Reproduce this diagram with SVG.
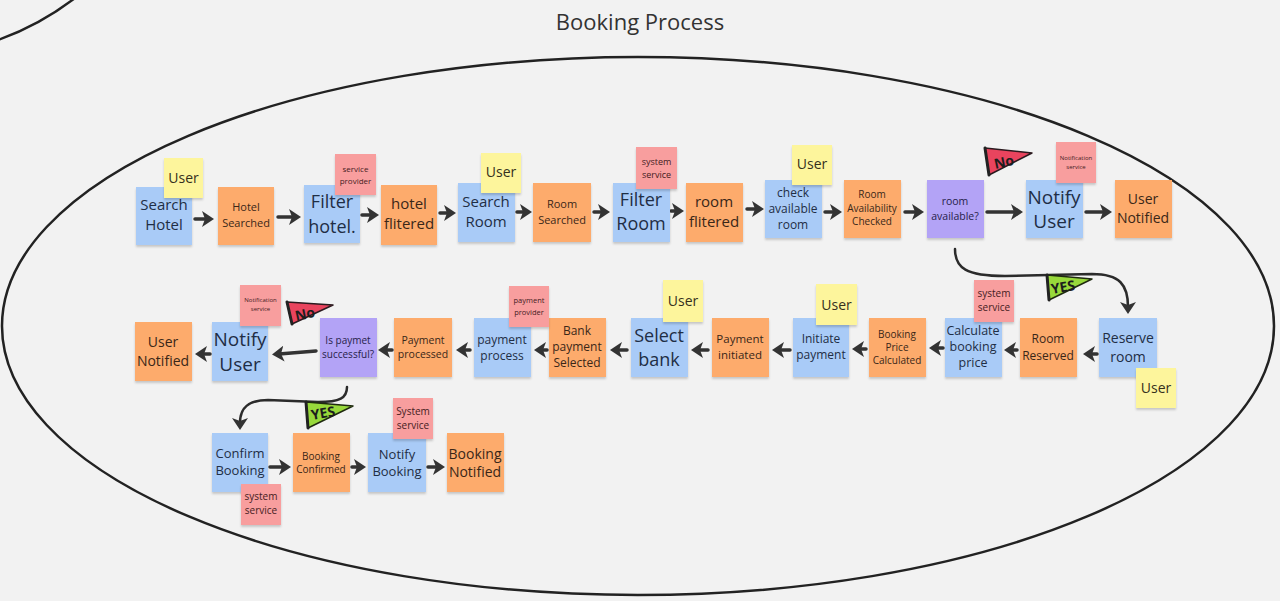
<svg xmlns="http://www.w3.org/2000/svg" width="1280" height="601" viewBox="0 0 1280 601">
<defs>
<style>
.bg{fill:#f2f2f2}
.frame{fill:none;stroke:#222;stroke-width:2.5}
.blue{fill:#a9cbf7}
.orange{fill:#fdab6c}
.yellow{fill:#fdf59c}
.pink{fill:#f89e9e}
.purple{fill:#b3a3f6}
.s{filter:url(#sh)}
text{font-family:"Open Sans","Noto Sans","Liberation Sans",sans-serif;text-anchor:middle}
.tb{fill:#1f2e45}
.to{fill:#3a2718}
.ty{fill:#35301c}
.tp{fill:#45201f}
.tv{fill:#27224a}
.title{font-size:22px;fill:#333}
.conn{fill:none;stroke:#333;stroke-width:3.5;stroke-linecap:round;marker-end:url(#ah)}
.curve{fill:none;stroke:#2b2b2b;stroke-width:2.5;stroke-linecap:round;marker-end:url(#ah)}
.flagno{fill:#e9445e;stroke:#2a1a1f;stroke-width:1.5;stroke-linejoin:round}
.flagyes{fill:#98d93b;stroke:#1f2a10;stroke-width:1.5;stroke-linejoin:round}
.pole{stroke:#222;stroke-width:3;stroke-linecap:round}
.ft{font-weight:bold;font-size:14px;fill:#1d1d1d}
</style>
<filter id="sh" x="-10%" y="-10%" width="120%" height="130%">
<feDropShadow dx="0" dy="2" stdDeviation="1.2" flood-color="#000" flood-opacity="0.18"/>
</filter>
<marker id="ah" viewBox="0 0 12 16" markerWidth="12" markerHeight="16" refX="5" refY="8" orient="auto" markerUnits="userSpaceOnUse">
<path d="M0,0 L12,8 L0,16 L3,8 z" fill="#333"/>
</marker>
</defs>
<rect class="bg" x="0" y="0" width="1280" height="601"/>
<path class="frame" d="M -2 40 Q 40 25 75 -2"/>
<ellipse class="frame" cx="638" cy="326" rx="636" ry="269"/>
<text class="title" x="640" y="30">Booking Process</text>

<g id="connectors">
<line class="conn" x1="195" y1="219" x2="207" y2="219"/>
<line class="conn" x1="278" y1="217" x2="294" y2="217"/>
<line class="conn" x1="362" y1="215" x2="372" y2="215"/>
<line class="conn" x1="440" y1="213" x2="449" y2="213"/>
<line class="conn" x1="517" y1="212" x2="525" y2="212"/>
<line class="conn" x1="594" y1="212" x2="603" y2="212"/>
<line class="conn" x1="671" y1="211" x2="677" y2="211"/>
<line class="conn" x1="747" y1="209" x2="757" y2="209"/>
<line class="conn" x1="825" y1="212" x2="835" y2="212"/>
<line class="conn" x1="905" y1="212" x2="917" y2="212"/>
<line class="conn" x1="987" y1="212" x2="1016" y2="212"/>
<line class="conn" x1="1086" y1="212" x2="1105" y2="212"/>

<line class="conn" x1="1097" y1="354" x2="1090" y2="354"/>
<line class="conn" x1="1017" y1="350" x2="1011" y2="350"/>
<line class="conn" x1="943" y1="348" x2="936" y2="348"/>
<line class="conn" x1="866" y1="349" x2="859" y2="349"/>
<line class="conn" x1="790" y1="350" x2="779" y2="350"/>
<line class="conn" x1="708" y1="350" x2="698" y2="350"/>
<line class="conn" x1="627" y1="350" x2="617" y2="350"/>
<line class="conn" x1="547" y1="350" x2="541" y2="350"/>
<line class="conn" x1="470" y1="350" x2="463" y2="350"/>
<line class="conn" x1="392" y1="350" x2="385" y2="350"/>
<line class="conn" x1="316" y1="351" x2="279" y2="354"/>
<line class="conn" x1="210" y1="354" x2="202" y2="354"/>

<line class="conn" x1="270" y1="467" x2="284" y2="467"/>
<line class="conn" x1="352" y1="467" x2="359" y2="467"/>
<line class="conn" x1="428" y1="467" x2="438" y2="467"/>

<path class="curve" d="M 955 249 C 955 268 966 276 1005 276 L 1092 274 C 1120 274 1128 285 1128 307"/>
<path class="curve" d="M 347 387 C 347 398 340 402 318 402 L 268 400 C 248 400 240 408 240 423"/>
</g>

<!-- Row 1 -->
<g id="search-hotel"><rect class="blue s" x="136" y="187" width="56" height="58"/><text class="tb" font-size="15" x="164" y="210">Search</text><text class="tb" font-size="15" x="164" y="230">Hotel</text></g>
<g id="hotel-searched"><rect class="orange s" x="218" y="187" width="56" height="58"/><text class="to" font-size="11" x="246" y="211">Hotel</text><text class="to" font-size="11" x="246" y="227">Searched</text></g>
<g id="filter-hotel"><rect class="blue s" x="304" y="185" width="56" height="58"/><text class="tb" font-size="18" x="332" y="208">Filter</text><text class="tb" font-size="18" x="332" y="233">hotel.</text></g>
<g id="hotel-flitered"><rect class="orange s" x="381" y="185" width="56" height="60"/><text class="to" font-size="15" x="409" y="209">hotel</text><text class="to" font-size="15" x="409" y="229">flitered</text></g>
<g id="search-room"><rect class="blue s" x="458" y="183" width="57" height="59"/><text class="tb" font-size="15" x="486" y="207">Search</text><text class="tb" font-size="15" x="486" y="227">Room</text></g>
<g id="room-searched"><rect class="orange s" x="533" y="183" width="58" height="59"/><text class="to" font-size="11" x="562" y="208">Room</text><text class="to" font-size="11" x="562" y="224">Searched</text></g>
<g id="filter-room"><rect class="blue s" x="613" y="183" width="57" height="59"/><text class="tb" font-size="18" x="641" y="206">Filter</text><text class="tb" font-size="18" x="641" y="230">Room</text></g>
<g id="room-flitered"><rect class="orange s" x="686" y="183" width="57" height="59"/><text class="to" font-size="15" x="714" y="207">room</text><text class="to" font-size="15" x="714" y="227">flitered</text></g>
<g id="check-available-room"><rect class="blue s" x="765" y="180" width="57" height="58"/><text class="tb" font-size="12" x="793" y="197">check</text><text class="tb" font-size="12" x="793" y="213">available</text><text class="tb" font-size="12" x="793" y="229">room</text></g>
<g id="room-availability-checked"><rect class="orange s" x="844" y="180" width="57" height="58"/><text class="to" font-size="10" x="872" y="198">Room</text><text class="to" font-size="10" x="872" y="211.5">Availability</text><text class="to" font-size="10" x="872" y="225">Checked</text></g>
<g id="room-available"><rect class="purple s" x="927" y="180" width="57" height="58"/><text class="tv" font-size="10.5" x="955" y="205">room</text><text class="tv" font-size="10.5" x="955" y="220">available?</text></g>
<g id="notify-user-1"><rect class="blue s" x="1026" y="180" width="57" height="58"/><text class="tb" font-size="19" x="1054" y="204">Notify</text><text class="tb" font-size="19" x="1054" y="228">User</text></g>
<g id="user-notified-1"><rect class="orange s" x="1115" y="180" width="57" height="58"/><text class="to" font-size="14" x="1143" y="204">User</text><text class="to" font-size="14" x="1143" y="223">Notified</text></g>

<!-- Row 2 -->
<g id="reserve-room"><rect class="blue s" x="1099" y="318" width="58" height="59"/><text class="tb" font-size="14" x="1128" y="343">Reserve</text><text class="tb" font-size="14" x="1128" y="362">room</text></g>
<g id="room-reserved"><rect class="orange s" x="1020" y="318" width="57" height="59"/><text class="to" font-size="12" x="1048" y="343">Room</text><text class="to" font-size="12" x="1048" y="360">Reserved</text></g>
<g id="calculate-booking-price"><rect class="blue s" x="945" y="318" width="57" height="59"/><text class="tb" font-size="12.5" x="973" y="335">Calculate</text><text class="tb" font-size="12.5" x="973" y="351">booking</text><text class="tb" font-size="12.5" x="973" y="367">price</text></g>
<g id="booking-price-calculated"><rect class="orange s" x="869" y="318" width="57" height="59"/><text class="to" font-size="10" x="897" y="338">Booking</text><text class="to" font-size="10" x="897" y="351">Price</text><text class="to" font-size="10" x="897" y="364">Calculated</text></g>
<g id="initiate-payment"><rect class="blue s" x="793" y="318" width="56" height="59"/><text class="tb" font-size="12" x="821" y="343">Initiate</text><text class="tb" font-size="12" x="821" y="359">payment</text></g>
<g id="payment-initiated"><rect class="orange s" x="712" y="318" width="57" height="59"/><text class="to" font-size="11.5" x="740" y="343">Payment</text><text class="to" font-size="11.5" x="740" y="359">initiated</text></g>
<g id="select-bank"><rect class="blue s" x="631" y="318" width="57" height="59"/><text class="tb" font-size="18" x="659" y="342">Select</text><text class="tb" font-size="18" x="659" y="366">bank</text></g>
<g id="bank-payment-selected"><rect class="orange s" x="549" y="318" width="57" height="59"/><text class="to" font-size="12" x="577" y="335">Bank</text><text class="to" font-size="12" x="577" y="351">payment</text><text class="to" font-size="12" x="577" y="367">Selected</text></g>
<g id="payment-process"><rect class="blue s" x="474" y="318" width="57" height="59"/><text class="tb" font-size="12" x="502" y="344">payment</text><text class="tb" font-size="12" x="502" y="360">process</text></g>
<g id="payment-processed"><rect class="orange s" x="394" y="318" width="58" height="59"/><text class="to" font-size="10.5" x="423" y="344">Payment</text><text class="to" font-size="10.5" x="423" y="358">processed</text></g>
<g id="is-paymet-successful"><rect class="purple s" x="320" y="318" width="57" height="59"/><text class="tv" font-size="10" x="348" y="344">Is paymet</text><text class="tv" font-size="10" x="348" y="357.5">successful?</text></g>
<g id="notify-user-2"><rect class="blue s" x="212" y="322" width="56" height="59"/><text class="tb" font-size="19" x="240" y="346">Notify</text><text class="tb" font-size="19" x="240" y="371">User</text></g>
<g id="user-notified-2"><rect class="orange s" x="135" y="322" width="57" height="59"/><text class="to" font-size="14" x="163" y="347">User</text><text class="to" font-size="14" x="163" y="366">Notified</text></g>

<!-- Row 3 -->
<g id="confirm-booking"><rect class="blue s" x="212" y="433" width="56" height="59"/><text class="tb" font-size="13" x="240" y="458">Confirm</text><text class="tb" font-size="13" x="240" y="475">Booking</text></g>
<g id="booking-confirmed"><rect class="orange s" x="293" y="433" width="57" height="59"/><text class="to" font-size="10" x="321" y="459.5">Booking</text><text class="to" font-size="10" x="321" y="473">Confirmed</text></g>
<g id="notify-booking"><rect class="blue s" x="368" y="433" width="58" height="59"/><text class="tb" font-size="13" x="397" y="459">Notify</text><text class="tb" font-size="13" x="397" y="476">Booking</text></g>
<g id="booking-notified"><rect class="orange s" x="447" y="433" width="57" height="59"/><text class="to" font-size="14" x="475" y="459">Booking</text><text class="to" font-size="14" x="475" y="477">Notified</text></g>

<!-- Actor stickies -->
<g id="actor-user-1"><rect class="yellow s" x="164" y="158" width="39" height="40"/><text class="ty" font-size="14" x="183.5" y="183">User</text></g>
<g id="actor-service-provider"><rect class="pink s" x="335" y="154" width="41" height="41"/><text class="tp" font-size="8" x="355.5" y="172">service</text><text class="tp" font-size="8" x="355.5" y="184">provider</text></g>
<g id="actor-user-2"><rect class="yellow s" x="481" y="153" width="40" height="40"/><text class="ty" font-size="14" x="501" y="177">User</text></g>
<g id="actor-system-service-1"><rect class="pink s" x="636" y="147" width="41" height="42"/><text class="tp" font-size="9" x="656.5" y="165">system</text><text class="tp" font-size="9" x="656.5" y="178">service</text></g>
<g id="actor-user-3"><rect class="yellow s" x="792" y="145" width="40" height="40"/><text class="ty" font-size="14" x="812" y="169">User</text></g>
<g id="actor-notification-service-1"><rect class="pink s" x="1056" y="142" width="40" height="41"/><text class="tp" font-size="6" x="1076" y="160">Notification</text><text class="tp" font-size="6" x="1076" y="168.5">service</text></g>
<g id="actor-user-4"><rect class="yellow s" x="1136" y="368" width="40" height="40"/><text class="ty" font-size="14" x="1156" y="393">User</text></g>
<g id="actor-system-service-2"><rect class="pink s" x="974" y="280" width="40" height="42"/><text class="tp" font-size="10" x="994" y="297">system</text><text class="tp" font-size="10" x="994" y="311">service</text></g>
<g id="actor-user-5"><rect class="yellow s" x="816" y="284" width="41" height="41"/><text class="ty" font-size="14" x="836.5" y="310">User</text></g>
<g id="actor-user-6"><rect class="yellow s" x="663" y="280" width="40" height="42"/><text class="ty" font-size="14" x="683" y="306">User</text></g>
<g id="actor-payment-provider"><rect class="pink s" x="509" y="286" width="40" height="41"/><text class="tp" font-size="7.5" x="529" y="303">payment</text><text class="tp" font-size="7.5" x="529" y="315">provider</text></g>
<g id="actor-notification-service-2"><rect class="pink s" x="240" y="285" width="41" height="41"/><text class="tp" font-size="6" x="260.5" y="302">Notification</text><text class="tp" font-size="6" x="260.5" y="310.5">service</text></g>
<g id="actor-system-service-3"><rect class="pink s" x="241" y="484" width="40" height="41"/><text class="tp" font-size="10" x="261" y="500">system</text><text class="tp" font-size="10" x="261" y="514">service</text></g>
<g id="actor-system-service-4"><rect class="pink s" x="393" y="398" width="40" height="41"/><text class="tp" font-size="10" x="413" y="415">System</text><text class="tp" font-size="10" x="413" y="429">service</text></g>

<!-- Flags -->
<g id="flag-no-1"><polygon class="flagno" points="985,148 1032,153 989,175"/><line class="pole" x1="985" y1="148" x2="989" y2="175"/><text class="ft" x="1004" y="167" transform="rotate(-12 1004 162)">No</text></g>
<g id="flag-yes-1"><polygon class="flagyes" points="1047,275 1092,279 1049,300"/><line class="pole" x1="1047" y1="275" x2="1049" y2="300"/><text class="ft" font-size="12" x="1063" y="292" transform="rotate(-10 1063 287)">YES</text></g>
<g id="flag-no-2"><polygon class="flagno" points="287,302 333,305 292,324"/><line class="pole" x1="287" y1="302" x2="292" y2="324"/><text class="ft" x="305" y="319" transform="rotate(-12 305 314)">No</text></g>
<g id="flag-yes-2"><polygon class="flagyes" points="306,402 353,406 308,428"/><line class="pole" x1="306" y1="402" x2="308" y2="428"/><text class="ft" font-size="12" x="323" y="418" transform="rotate(-10 323 413)">YES</text></g>
</svg>
